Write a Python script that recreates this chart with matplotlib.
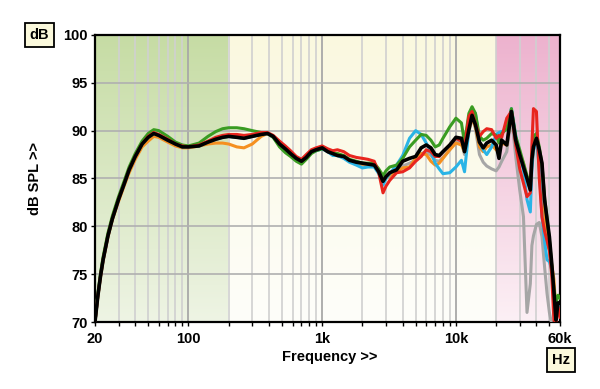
import matplotlib
matplotlib.use('Agg')
import matplotlib.pyplot as plt
import matplotlib.colors as mcolors
import numpy as np

# frequency points (Hz) shared by all traces
freq = [20, 21, 22, 23, 25, 27, 30, 33, 36, 40,
        45, 50, 55, 60, 70, 80, 90, 100, 120, 140,
        160, 180, 200, 230, 260, 300, 350, 390, 430, 480,
        530, 580, 640, 700, 760, 830, 900, 1000, 1100, 1200,
        1300, 1450, 1600, 1800, 2000, 2200, 2450, 2650, 2850, 3000,
        3200, 3600, 4000, 4500, 5000, 5500, 6000, 6500, 7000, 7500,
        8000, 9000, 10000, 11000, 11600, 12500, 13200, 14000, 15000, 16000,
        17000, 18500, 20000, 21000, 22000, 24000, 26000, 28000, 30000, 32000,
        34000, 36000, 37000, 38000, 40000, 42000, 44000, 46000, 48000, 50000,
        52000, 54000, 56000, 58000, 60000]

spl_gray = [70.0, 72.7, 74.8, 76.5, 79.0, 80.8, 82.8, 84.4, 85.9, 87.3,
            88.6, 89.3, 89.7, 89.5, 89.0, 88.6, 88.3, 88.3, 88.4, 88.8,
            89.1, 89.3, 89.4, 89.3, 89.2, 89.4, 89.6, 89.7, 89.4, 88.6,
            88.0, 87.5, 87.0, 86.7, 87.1, 87.7, 87.9, 88.1, 87.8, 87.5,
            87.4, 87.2, 86.8, 86.6, 86.4, 86.4, 86.3, 85.7, 84.8, 85.1,
            85.4, 85.7, 86.3, 86.6, 86.9, 87.6, 87.8, 87.4, 86.9, 86.8,
            87.2, 88.0, 88.9, 88.8, 87.5, 89.8, 91.4, 90.2, 87.5, 86.7,
            86.3, 86.0, 85.8, 86.2, 86.8, 87.8, 91.6, 87.3, 83.8, 81.0,
            71.0, 74.0, 78.0, 79.0, 80.2, 80.4, 78.9, 75.8, 73.0, 71.0,
            69.8, 69.8, 69.8, 69.8, 69.8]

spl_orange = [70.0, 72.6, 74.7, 76.4, 78.9, 80.7, 82.6, 84.2, 85.6, 87.0,
              88.3, 88.9, 89.4, 89.3, 88.8, 88.4, 88.2, 88.2, 88.4, 88.6,
              88.7, 88.7, 88.6, 88.3, 88.2, 88.6, 89.4, 89.7, 89.4, 88.6,
              88.1, 87.6, 87.1, 86.8, 87.2, 87.8, 88.0, 88.2, 87.9, 87.6,
              87.6, 87.3, 86.9, 86.7, 86.5, 86.5, 86.4, 85.7, 84.8, 85.0,
              85.3, 85.7, 86.1, 86.2, 87.1, 87.6, 87.5, 86.8, 86.4, 86.6,
              87.1, 88.0, 88.7, 88.5, 87.8, 90.1, 91.3, 90.4, 88.3, 87.8,
              88.3, 88.5, 88.0, 87.8, 88.7, 88.5, 91.8, 89.0, 87.6, 86.6,
              85.0, 83.8, 86.5, 88.0, 89.0, 87.8, 86.0, 81.0, 78.2, 77.5,
              76.0, 74.5, 71.0, 71.5, 71.5]

spl_cyan = [70.0, 72.7, 74.8, 76.5, 79.0, 80.8, 82.8, 84.4, 85.9, 87.3,
            88.6, 89.3, 89.7, 89.5, 89.0, 88.6, 88.3, 88.3, 88.4, 88.8,
            89.1, 89.3, 89.4, 89.3, 89.2, 89.4, 89.6, 89.7, 89.3, 88.5,
            88.0, 87.5, 87.0, 86.8, 87.1, 87.7, 87.9, 88.1, 87.8, 87.4,
            87.4, 87.1, 86.7, 86.4, 86.1, 86.2, 86.2, 85.5, 84.3, 85.0,
            85.5, 86.4, 87.4, 89.2, 90.0, 89.6, 88.7, 87.8, 86.6, 86.0,
            85.5, 85.6, 86.2, 86.9, 85.7, 90.1, 92.2, 91.8, 88.8, 88.0,
            87.5, 88.3, 89.6, 89.8, 89.9, 90.1, 92.3, 89.5, 87.6, 85.9,
            82.8, 81.5, 86.0, 88.0, 89.0, 86.2, 81.0, 78.5, 76.5, 76.3,
            75.5, 73.0, 70.5, 72.0, 71.5]

spl_green = [70.0, 72.9, 75.1, 76.8, 79.3, 81.1, 83.1, 84.7, 86.2, 87.6,
             88.9, 89.7, 90.1, 90.0, 89.4, 88.8, 88.5, 88.4, 88.7, 89.4,
             89.9, 90.2, 90.3, 90.3, 90.2, 90.0, 89.8, 89.7, 89.3, 88.3,
             87.7, 87.3, 86.8, 86.5, 87.0, 87.6, 87.9, 88.1, 87.9, 87.6,
             87.6, 87.4, 87.0, 86.8, 86.6, 86.6, 86.6, 86.0, 85.3, 85.8,
             86.2, 86.4, 87.1, 88.3, 89.0, 89.6, 89.5, 89.0, 88.3, 88.5,
             89.2, 90.4, 91.3, 90.8, 88.7, 91.8, 92.5, 91.8, 89.4, 89.0,
             89.2, 89.7, 89.5, 88.7, 89.7, 90.2, 92.3, 89.4, 88.0, 86.6,
             85.3, 84.2, 87.5, 89.4, 89.7, 88.3, 86.5, 83.1, 80.8, 78.6,
             76.0, 73.5, 72.0, 72.8, 72.5]

spl_red = [70.0, 72.7, 74.8, 76.5, 79.0, 80.8, 82.8, 84.4, 85.9, 87.3,
           88.6, 89.4, 89.8, 89.6, 89.1, 88.6, 88.4, 88.3, 88.5, 88.9,
           89.3, 89.5, 89.6, 89.6, 89.5, 89.6, 89.8, 89.8, 89.5, 88.9,
           88.4, 87.9, 87.3, 87.0, 87.5, 88.0, 88.2, 88.4, 88.1, 87.9,
           88.0, 87.8, 87.4, 87.2, 87.1, 87.0, 86.8, 85.6, 83.5, 84.2,
           84.8, 85.6, 85.7, 86.1, 86.8, 87.3, 88.0, 87.8, 87.3, 87.3,
           87.8, 88.5, 89.2, 88.9, 88.3, 91.5, 92.0, 90.7, 89.4, 89.9,
           90.2, 90.1, 89.2, 89.5, 89.3, 91.3, 92.0, 88.5, 86.0, 84.5,
           83.1, 83.5, 88.5, 92.3, 92.0, 85.0, 81.0, 79.5, 78.5, 77.5,
           75.0, 70.2, 70.0, 71.6, 70.5]

spl_black = [70.0, 72.7, 74.8, 76.5, 79.0, 80.8, 82.8, 84.4, 85.9, 87.3,
             88.6, 89.3, 89.7, 89.5, 89.0, 88.6, 88.3, 88.3, 88.4, 88.8,
             89.1, 89.3, 89.4, 89.3, 89.2, 89.4, 89.6, 89.7, 89.4, 88.6,
             88.1, 87.6, 87.1, 86.8, 87.2, 87.8, 88.0, 88.2, 87.8, 87.6,
             87.4, 87.3, 86.9, 86.7, 86.6, 86.5, 86.4, 85.7, 84.7, 85.2,
             85.6, 85.9, 86.8, 87.1, 87.3, 88.2, 88.5, 88.2, 87.5, 87.4,
             87.8, 88.5, 89.3, 89.2, 87.8, 90.1, 91.6, 90.6, 88.8, 88.2,
             88.7, 89.0, 88.5, 87.1, 89.0, 88.5, 92.0, 89.0, 87.5, 86.2,
             85.0, 83.8, 87.0, 88.3, 89.2, 88.0, 86.6, 82.8, 80.8, 78.9,
             76.2, 73.3, 70.2, 72.0, 72.0]

xticks = [20, 100, 1000, 10000, 60000]
xticklabels = ['20', '100', '1k', '10k', '60k']
yticks = [70, 75, 80, 85, 90, 95, 100]

plt.rcParams['font.family'] = ['Liberation Sans', 'DejaVu Sans']
plt.rcParams['font.weight'] = 'bold'
plt.rcParams['font.size'] = 10.5

fig = plt.figure(figsize=(6, 3.89), dpi=100)
ax = fig.add_axes([0.1583, 0.1722, 0.775, 0.738])
ax.set_xscale('log')


def band(x0, x1, top, bottom):
    t = np.array(mcolors.to_rgb(top))
    b = np.array(mcolors.to_rgb(bottom))
    g = np.linspace(0, 1, 200).reshape(-1, 1, 1)
    img = t * (1 - g) + b * g
    ax.imshow(img, extent=(x0, x1, 70, 100), aspect='auto', origin='upper',
              interpolation='bilinear', zorder=0)


band(20, 200, '#c6dca4', '#eef4e4')
band(200, 20000, '#faf8df', '#fefefa')
band(20000, 60000, '#edb2ce', '#fcf0f5')

ax.set_xlim(20, 60000)
ax.set_ylim(70, 100)

minor = [m * d for d in (10, 100, 1000, 10000) for m in range(2, 10)]
minor = [m for m in minor if 20 < m < 60000]
ax.set_xticks(xticks)
ax.set_xticklabels(xticklabels, fontweight='bold')
ax.set_xticks(minor, minor=True)
ax.set_yticks(yticks)
ax.set_yticklabels([str(v) for v in yticks], fontweight='bold')

for m in minor:
    ax.axvline(m, color='#d0d0d0', lw=1.2, zorder=1)
for m in (100, 1000, 10000):
    ax.axvline(m, color='#a8a8a8', lw=1.3, zorder=1)
for v in (75, 80, 85, 90, 95):
    ax.axhline(v, color='#b0b0b0', lw=1.2, zorder=1)

ax.tick_params(axis='both', which='both', direction='out', length=3, width=1)
ax.tick_params(axis='x', which='minor', labelbottom=False)
ax.tick_params(axis='x', pad=4)
ax.tick_params(axis='y', pad=2)
for s in ax.spines.values():
    s.set_linewidth(1.6)

ax.plot(freq, spl_gray, color='#a6a6a6', lw=2.2, zorder=3)
ax.plot(freq, spl_orange, color='#f59020', lw=2.2, zorder=4)
ax.plot(freq, spl_cyan, color='#2ab4e6', lw=2.2, zorder=5)
ax.plot(freq, spl_green, color='#3a9c22', lw=2.2, zorder=6)
ax.plot(freq, spl_red, color='#e8251e', lw=2.2, zorder=7)
ax.plot(freq, spl_black, color='#000000', lw=2.6, zorder=8)

fig.text(0.058, 0.542, 'dB SPL >>', rotation=90, ha='center', va='center',
         fontweight='bold')
fig.text(0.55, 0.082, 'Frequency >>', ha='center', va='center', fontweight='bold')
box = dict(boxstyle='square,pad=0.35', fc='#fbf9dc', ec='black', lw=1.3)
fig.text(0.066, 0.911, 'dB', ha='center', va='center', fontweight='bold', bbox=box)
fig.text(0.935, 0.074, 'Hz', ha='center', va='center', fontweight='bold', bbox=box)

fig.savefig('out.png', dpi=100)
